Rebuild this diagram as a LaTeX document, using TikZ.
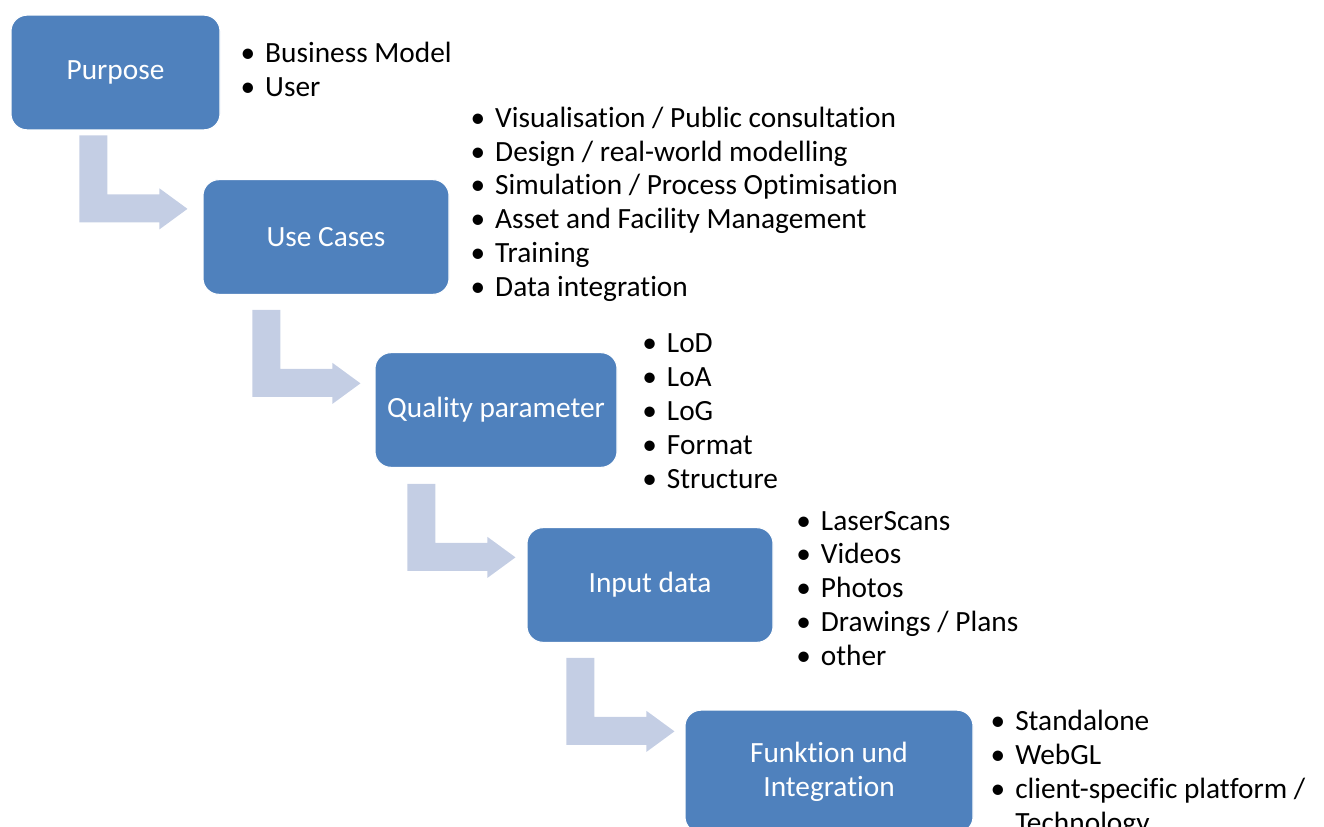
\documentclass[tikz,border=0pt]{standalone}
\usepackage{fontspec}
\setmainfont{Carlito}[Ligatures=NoCommon]
\usetikzlibrary{calc}

\definecolor{stageblue}{RGB}{79,129,189}
\definecolor{arrowgrey}{RGB}{196,206,228}

\tikzset{
  stage/.style={rectangle, rounded corners=12pt, fill=stageblue, draw=white,
    line width=0.8pt, text=white, align=center, minimum height=86pt,
    font=\fontsize{22}{25.5}\selectfont},
  item/.style={anchor=base west, inner sep=0pt,
    font=\fontsize{22}{25.5}\selectfont},
  % bent block arrow, origin at the top left of the upright bar
  flowarrow/.pic={
    \fill[arrowgrey] (0,0) -- (28,0) -- (28,59) -- (80,59) -- (80,53)
      -- (108,73.5) -- (80,94) -- (80,87) -- (0,87) -- cycle;
  }
}

\begin{document}
\begin{tikzpicture}[x=0.75pt,y=-0.75pt]
  \useasboundingbox (0,0) rectangle (1324,827);
  \clip (0,0) rectangle (1324,827);

  % the five stages
  \node[stage, minimum width=156.75pt] (purpose) at (115.5,72.5) {Purpose};
  \node[stage, minimum width=184.5pt]  (usecases) at (326,237) {Use Cases};
  \node[stage, minimum width=181.5pt]  (quality) at (496,410) {Quality parameter};
  \node[stage, minimum width=184.5pt]  (input) at (650,585) {Input data};
  \node[stage, minimum width=216pt, minimum height=92pt] (function) at (829,771.5)
    {Funktion und\\Integration};

  % arrows between the stages
  \pic at ($(purpose.south west)+(69,5)$) {flowarrow};
  \pic at ($(usecases.south west)+(50,15)$) {flowarrow};
  \pic at ($(quality.south west)+(33,16)$) {flowarrow};
  \pic at ($(input.south west)+(40,15)$) {flowarrow};

  % bullet lists
  \foreach \txt [count=\i] in {Business Model, User}
    \node[item] (purpose-\i) at (265,{62.7+34*(\i-1)}) {\llap{\textbullet\hspace{7.5pt}}\txt};

  \foreach \txt [count=\i] in {Visualisation / Public consultation,
      Design / real-world modelling, Simulation / Process Optimisation,
      Asset and Facility Management, Training, Data integration}
    \node[item] (usecases-\i) at (495,{127.3+33.8*(\i-1)}) {\llap{\textbullet\hspace{7.5pt}}\txt};

  \foreach \txt [count=\i] in {LoD, LoA, LoG, Format, Structure}
    \node[item] (quality-\i) at (666.7,{352.3+34*(\i-1)}) {\llap{\textbullet\hspace{7.5pt}}\txt};

  \foreach \txt [count=\i] in {LaserScans, Videos, Photos, Drawings / Plans, other}
    \node[item] (input-\i) at (820.7,{530+33.9*(\i-1)}) {\llap{\textbullet\hspace{7.5pt}}\txt};

  \foreach \txt [count=\i] in {Standalone, WebGL, client-specific platform /}
    \node[item] (function-\i) at (1015,{730+34*(\i-1)}) {\llap{\textbullet\hspace{7.5pt}}\txt};
  \node[item] (function-4) at (1015,832) {Technology};
\end{tikzpicture}
\end{document}
